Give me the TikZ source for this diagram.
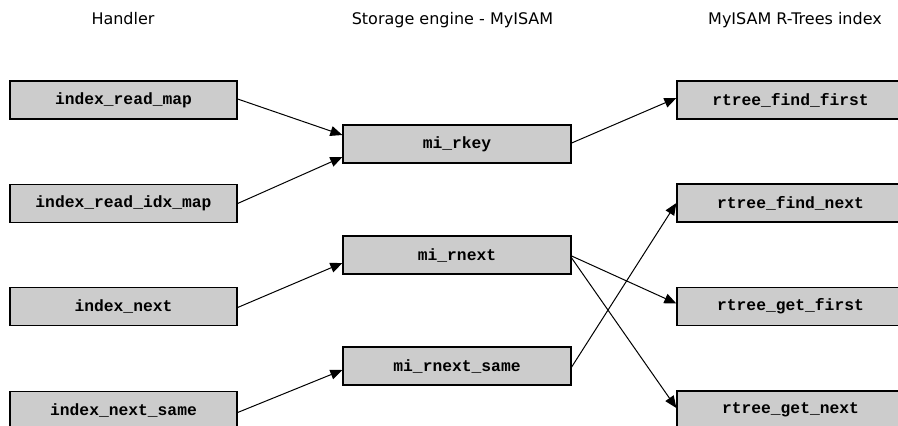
\documentclass[tikz,border=0pt]{standalone}
\usepackage{fontspec}
\setmainfont{DejaVu Sans}
\newfontfamily\boxfont{Liberation Mono}
\usetikzlibrary{arrows.meta,calc}
\definecolor{boxgray}{RGB}{204,204,204}
\tikzset{
  fnbox/.style={draw=black, line width=1.3pt, fill=boxgray, rectangle, inner sep=0pt,
    minimum height=38pt, font=\boxfont\bfseries\fontsize{16.3}{19}\selectfont},
  lbox/.style={fnbox, minimum width=227pt},
  mbox/.style={fnbox, minimum width=228pt},
  rbox/.style={fnbox, minimum width=227pt},
  header/.style={anchor=base, font=\fontsize{16}{19}\selectfont},
  conn/.style={line width=1pt, -{Triangle[length=12pt,width=10pt]}}
}
\begin{document}
\begin{tikzpicture}[x=1pt,y=-1pt]
\useasboundingbox (0,0) rectangle (898,426);
\clip (0,0) rectangle (898,426);
\node[header] (h1) at (123,24) {Handler};
\node[header] (h2) at (452.5,24) {Storage engine - MyISAM};
\node[header] (h3) at (795,24) {MyISAM R-Trees index};

\node[lbox] (L1) at (123.5,100) {index\_read\_map};
\node[lbox] (L2) at (123.5,203.5) {index\_read\_idx\_map};
\node[lbox] (L3) at (123.5,306.5) {index\_next};
\node[lbox] (L4) at (123.5,410.5) {index\_next\_same};

\node[mbox] (M1) at (457,144) {mi\_rkey};
\node[mbox] (M2) at (457,255) {mi\_rnext};
\node[mbox] (M3) at (457,366) {mi\_rnext\_same};

\node[rbox] (R1) at (790.5,100) {rtree\_find\_first};
\node[rbox] (R2) at (790.5,203) {rtree\_find\_next};
\node[rbox] (R3) at (790.5,306.5) {rtree\_get\_first};
\node[rbox] (R4) at (790.5,410) {rtree\_get\_next};

\draw[conn] ($(L1.east)+(0,-1)$) -- ($(M1.west)+(0,-9)$);
\draw[conn] (L2.east) -- ($(M1.west)+(0,13)$);
\draw[conn] ($(L3.east)+(0,1)$) -- ($(M2.west)+(0,8)$);
\draw[conn] ($(L4.east)+(0,2)$) -- ($(M3.west)+(0,4)$);
\draw[conn] ($(M1.east)+(0,-1)$) -- ($(R1.west)+(0,-2)$);
\draw[conn] ($(M3.east)+(0,1)$) -- (R2.west);
\draw[conn] ($(M2.east)+(0,1)$) -- ($(R3.west)+(0,-3)$);
\draw[conn] ($(M2.east)+(0,3)$) -- ($(R4.west)+(0,-2)$);
\end{tikzpicture}
\end{document}
